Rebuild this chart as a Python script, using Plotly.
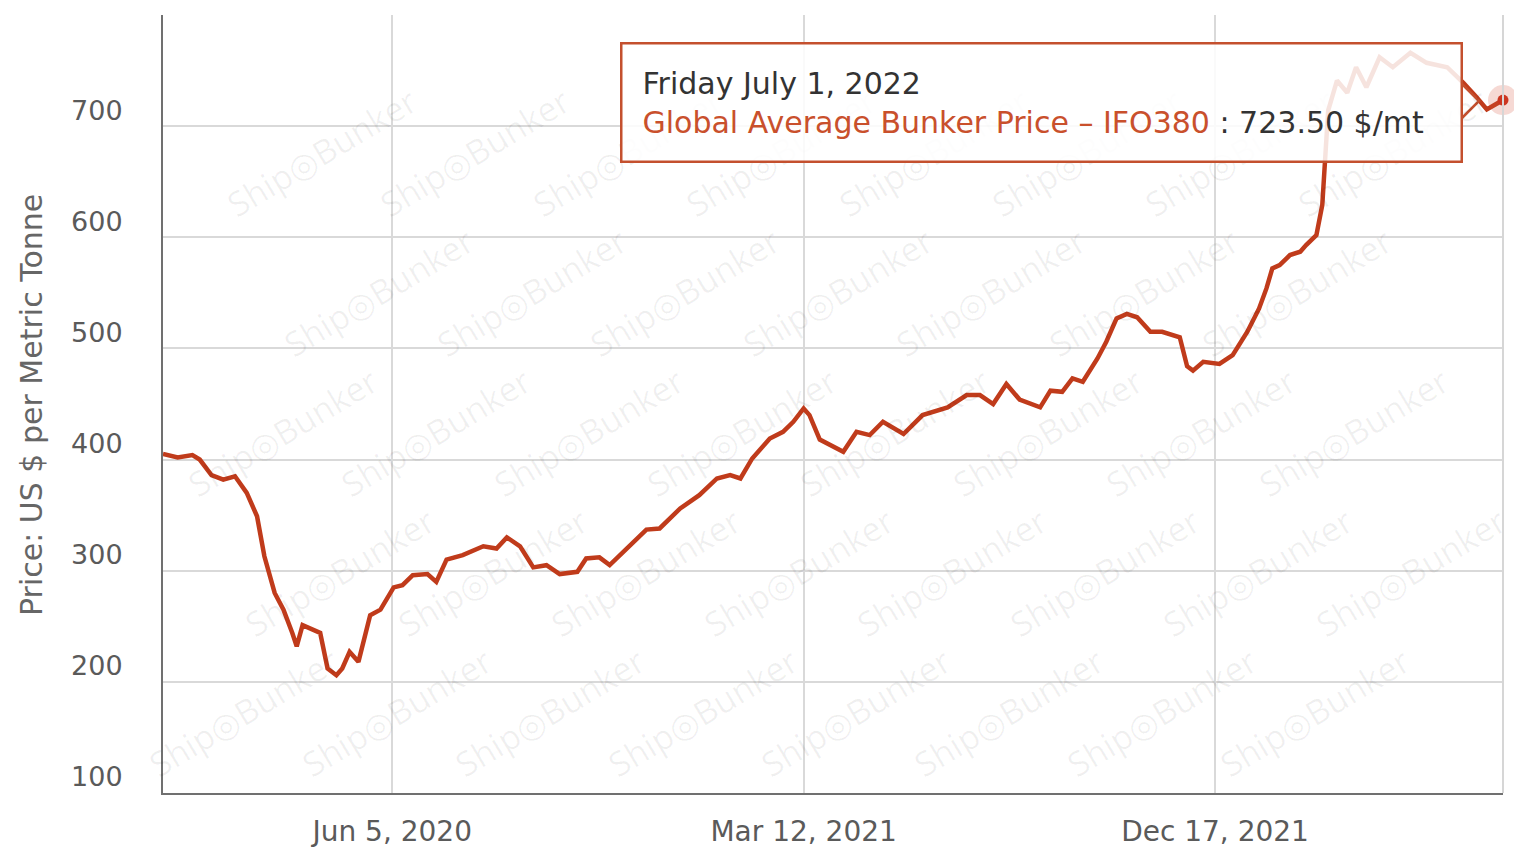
import plotly.graph_objects as go

# ---------------- data ----------------
dates = [
    "2020-01-01", "2020-01-11", "2020-01-21", "2020-01-26", "2020-02-03", "2020-02-11",
    "2020-02-19", "2020-02-27", "2020-03-05", "2020-03-10", "2020-03-17", "2020-03-23",
    "2020-03-29", "2020-04-01", "2020-04-05", "2020-04-11", "2020-04-17", "2020-04-22",
    "2020-04-28", "2020-05-02", "2020-05-07", "2020-05-13", "2020-05-21", "2020-05-28",
    "2020-06-06", "2020-06-12", "2020-06-19", "2020-06-29", "2020-07-05", "2020-07-12",
    "2020-07-23", "2020-08-06", "2020-08-15", "2020-08-22", "2020-08-31", "2020-09-09",
    "2020-09-18", "2020-09-27", "2020-10-09", "2020-10-15", "2020-10-24", "2020-10-31",
    "2020-11-12", "2020-11-25", "2020-12-04", "2020-12-18", "2020-12-31", "2021-01-12",
    "2021-01-21", "2021-01-28", "2021-02-05", "2021-02-17", "2021-02-26", "2021-03-05",
    "2021-03-12", "2021-03-16", "2021-03-23", "2021-03-30", "2021-04-08", "2021-04-17",
    "2021-04-26", "2021-05-05", "2021-05-19", "2021-06-01", "2021-06-18", "2021-07-01",
    "2021-07-10", "2021-07-19", "2021-07-28", "2021-08-06", "2021-08-20", "2021-08-27",
    "2021-09-04", "2021-09-11", "2021-09-18", "2021-09-28", "2021-10-04", "2021-10-11",
    "2021-10-18", "2021-10-25", "2021-11-03", "2021-11-11", "2021-11-23", "2021-11-28",
    "2021-12-02", "2021-12-09", "2021-12-20", "2021-12-29", "2022-01-08", "2022-01-16",
    "2022-01-21", "2022-01-25", "2022-01-30", "2022-02-06", "2022-02-13", "2022-02-17",
    "2022-02-24", "2022-02-28", "2022-03-02", "2022-03-04", "2022-03-10", "2022-03-17",
    "2022-03-23", "2022-03-30", "2022-04-08", "2022-04-17", "2022-04-29", "2022-05-10",
    "2022-05-24", "2022-06-04", "2022-06-13", "2022-06-20", "2022-07-01",
]
prices = [
    405, 402, 404, 400, 386, 382,
    385, 370, 349, 313, 280, 265,
    244, 232, 251, 247, 244, 212,
    206, 212, 227, 218, 260, 265,
    285, 287, 296, 297, 290, 310,
    314, 322, 320, 330, 322, 303,
    305, 297, 299, 311, 312, 305,
    320, 337, 338, 356, 368, 383,
    386, 383, 401, 419, 425, 434,
    446, 440, 418, 413, 407, 425,
    422, 434, 423, 440, 447, 458,
    458, 450, 468, 454, 447, 462,
    461, 473, 470, 491, 506, 527,
    531, 528, 515, 515, 510, 484,
    480, 488, 486, 494, 515, 536,
    554, 572, 575, 584, 587, 593,
    602, 629, 667, 714, 741, 730,
    753, 735, 762, 753, 766, 757,
    753, 739, 726, 715, 723.5,
]
series_name = "Global Average Bunker Price – IFO380"
x_tickvals = ["2020-06-05", "2021-03-12", "2021-12-17"]
x_ticktext = ["Jun 5, 2020", "Mar 12, 2021", "Dec 17, 2021"]
y_tickvals = [100, 200, 300, 400, 500, 600, 700]
y_title = "Price: US $ per Metric Tonne"
tooltip_date = "Friday July 1, 2022"
unit = "$/mt"

# ---------------- layout helpers ----------------
W, H = 1514, 848
L, R, T, B = 163, 11, 15, 55
PW, PH = W - L - R, H - T - B
FONT = "DejaVu Sans"
LINE = "#c03b1b"


def px(xp):
    return (xp - L) / PW


def py(yp):
    return (H - B - yp) / PH


fig = go.Figure()
fig.add_trace(go.Scatter(
    x=dates, y=prices, mode="lines", name=series_name,
    line=dict(color=LINE, width=4.5), hoverinfo="skip",
))
# hover halo + marker on the last point
fig.add_trace(go.Scatter(
    x=[dates[-1]], y=[prices[-1]], mode="markers",
    marker=dict(size=30, color="rgba(215,80,60,0.22)", line=dict(width=0)),
    hoverinfo="skip", cliponaxis=False,
))
fig.add_trace(go.Scatter(
    x=[dates[-1]], y=[prices[-1]], mode="markers",
    marker=dict(size=11, color="#cc3520", line=dict(width=0)),
    hoverinfo="skip", cliponaxis=False,
))

annotations = []
# watermark lattice
for k in range(-1, 7):
    for m in range(-2, 10):
        cx = 205 + 57 * k + 153 * m + 60
        cy = 45 + 140 * k - 33
        if L + 75 <= cx <= W - R - 60 and T + 40 <= cy <= H - B - 45:
            annotations.append(dict(
                x=px(cx), y=py(cy), xref="paper", yref="paper",
                text="Ship◎Bunker", showarrow=False, textangle=-31,
                font=dict(family="Open Sans", size=34, color="rgba(0,0,0,0.06)"),
                xanchor="center", yanchor="middle",
            ))

# y axis title
annotations.append(dict(
    x=px(32), y=py(405), xref="paper", yref="paper", text=y_title,
    showarrow=False, textangle=-90, xanchor="center", yanchor="middle",
    font=dict(family=FONT, size=30, color="#666666"),
))

# tooltip
tip_text = (
    f"<span style='color:#333333'>{tooltip_date}</span><br>"
    f"<span style='color:#c9502c'>{series_name}</span>"
    f"<span style='color:#333333'> : {prices[-1]:.2f} {unit}</span>"
)
annotations.append(dict(
    x=px(620), y=py(42), xref="paper", yref="paper", text=tip_text,
    showarrow=False, xanchor="left", yanchor="top", align="left",
    width=842 - 44, height=120 - 44, borderpad=20, borderwidth=2.5,
    bordercolor="#c4502e", bgcolor="rgba(255,255,255,0.86)",
    font=dict(family=FONT, size=30, color="#333333"),
))

shapes = [
    # right plot border
    dict(type="line", xref="paper", yref="paper", x0=1, x1=1, y0=0, y1=1,
         line=dict(color="#d6d6d6", width=2)),
    # tooltip pointer
    dict(type="path", xref="paper", yref="paper",
         path=f"M {px(1462)},{py(84)} L {px(1479)},{py(101)} L {px(1462)},{py(118)}",
         line=dict(color="#c4502e", width=2.5), fillcolor="rgba(255,255,255,0.86)"),
]

fig.update_layout(
    width=W, height=H,
    margin=dict(l=L, r=R, t=T, b=B, pad=0, autoexpand=False),
    paper_bgcolor="white", plot_bgcolor="white",
    showlegend=False,
    font=dict(family=FONT, color="#666666"),
    annotations=annotations,
    shapes=shapes,
    xaxis=dict(
        type="date", range=["2020-01-01", "2022-07-01"],
        tickmode="array", tickvals=x_tickvals, ticktext=x_ticktext,
        showgrid=True, gridcolor="#d9d9d9", gridwidth=2,
        showline=True, linecolor="#707070", linewidth=2,
        ticks="outside", ticklen=6, tickcolor="rgba(0,0,0,0)",
        ticklabelstandoff=6, automargin=False,
        tickfont=dict(family=FONT, size=28, color="#5a5a5a"),
        zeroline=False, fixedrange=True,
    ),
    yaxis=dict(
        range=[100, 800], tickmode="array", tickvals=y_tickvals,
        showgrid=True, gridcolor="#d9d9d9", gridwidth=2,
        showline=True, linecolor="#707070", linewidth=2,
        ticks="", ticklabelstandoff=33, ticklabelshift=-16, automargin=False,
        tickfont=dict(family=FONT, size=27, color="#5a5a5a"),
        zeroline=False, fixedrange=True,
    ),
)

fig.write_html("out.html", post_script="document.body.style.margin='0';",
               config={"displayModeBar": False})
